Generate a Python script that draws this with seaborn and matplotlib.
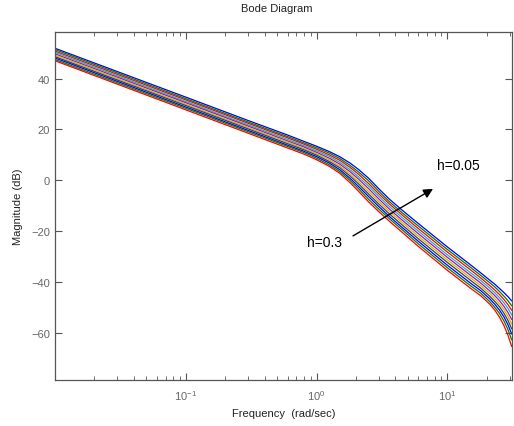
import numpy as np
import pandas as pd
import matplotlib
matplotlib.use("Agg")
import matplotlib.pyplot as plt
import seaborn as sns

# frequencies (rad/sec) and magnitude (dB), one list per curve
freq = [0.01, 0.1, 0.3, 0.6, 0.8, 1.0, 1.25, 1.5, 1.8, 2.1, 2.5, 3.0, 3.6, 4.5, 6.0,
        10, 15, 18, 21, 23, 25, 27, 29, 31]

mag0 = [51.9, 32.7, 23.5, 17.8, 15.3, 13.4, 11.3, 9.3, 6.8, 4.2, 0.8, -3.4, -7.4, -11.7, -17.0, -26.2, -33.2, -36.4, -39.2, -40.8, -42.5, -44.1, -45.7, -47.4]
mag1 = [51.4, 32.1, 22.9, 17.2, 14.7, 12.8, 10.7, 8.6, 5.9, 3.2, -0.2, -4.4, -8.4, -12.7, -18.0, -27.2, -34.2, -37.4, -40.2, -41.9, -43.7, -45.5, -47.3, -49.3]
mag2 = [50.8, 31.6, 22.4, 16.7, 14.2, 12.2, 10.0, 7.9, 5.1, 2.3, -1.3, -5.4, -9.3, -13.6, -19.0, -28.2, -35.2, -38.4, -41.3, -43.1, -44.9, -46.8, -48.8, -51.1]
mag3 = [50.3, 31.0, 21.8, 16.1, 13.6, 11.6, 9.4, 7.1, 4.2, 1.3, -2.3, -6.4, -10.3, -14.6, -20.0, -29.3, -36.3, -39.4, -42.3, -44.2, -46.1, -48.1, -50.3, -52.9]
mag4 = [49.7, 30.5, 21.3, 15.5, 13.1, 11.0, 8.7, 6.4, 3.4, 0.4, -3.3, -7.4, -11.3, -15.6, -21.0, -30.3, -37.3, -40.4, -43.4, -45.3, -47.3, -49.5, -51.9, -54.7]
mag5 = [49.2, 29.9, 20.7, 15.0, 12.5, 10.5, 8.1, 5.7, 2.5, -0.6, -4.4, -8.4, -12.2, -16.5, -22.0, -31.3, -38.3, -41.4, -44.4, -46.5, -48.5, -50.8, -53.4, -56.5]
mag6 = [48.6, 29.4, 20.2, 14.4, 12.0, 9.9, 7.4, 5.0, 1.7, -1.5, -5.4, -9.4, -13.2, -17.5, -23.0, -32.3, -39.3, -42.4, -45.5, -47.6, -49.7, -52.2, -55.0, -58.4]
mag7 = [48.1, 28.8, 19.6, 13.8, 11.4, 9.3, 6.8, 4.2, 0.8, -2.5, -6.4, -10.4, -14.2, -18.5, -24.0, -33.4, -40.4, -43.4, -46.5, -48.7, -51.0, -53.6, -56.7, -60.4]
mag8 = [47.5, 28.3, 19.1, 13.3, 10.9, 8.7, 6.1, 3.5, -0.0, -3.4, -7.5, -11.4, -15.1, -19.4, -25.0, -34.4, -41.4, -44.4, -47.6, -49.9, -52.3, -55.2, -58.6, -62.7]
mag9 = [47.0, 27.7, 18.5, 12.7, 10.3, 8.1, 5.5, 2.8, -0.9, -4.4, -8.5, -12.4, -16.1, -20.4, -26.0, -35.4, -42.4, -45.4, -48.6, -51.0, -53.8, -57.0, -60.8, -65.3]

curves = [mag0, mag1, mag2, mag3, mag4, mag5, mag6, mag7, mag8, mag9]

# old matlab color order b g r c m y k
colors = [(0, 0, 1), (0, 0.5, 0), (1, 0, 0), (0, 0.75, 0.75), (0.75, 0, 0.75),
          (0.75, 0.75, 0), (0.25, 0.25, 0.25), (0, 0, 1), (0, 0.5, 0), (1, 0, 0)]

rows = []
for i, m in enumerate(curves):
    for f, v in zip(freq, m):
        rows.append({"freq": f, "mag": v, "curve": i})
df = pd.DataFrame(rows)

sns.set_theme(style="white")
plt.rcParams['font.family'] = ['Liberation Sans', 'DejaVu Sans']

fig = plt.figure(figsize=(5.14, 4.27), dpi=100)
ax = fig.add_axes([0.107, 0.1077, 0.8885, 0.815])

sns.lineplot(data=df, x="freq", y="mag", hue="curve", palette=colors,
             legend=False, linewidth=0.9, ax=ax, sort=False)

ax.set_xscale("log")
ax.set_xlim(0.01, 31)
ax.set_ylim(-78.5, 58.3)
ax.set_xticks([0.1, 1, 10])
ax.set_yticks([-60, -40, -20, 0, 20, 40])

gray = "#555555"
for s in ax.spines.values():
    s.set_color(gray)
    s.set_linewidth(0.9)
ax.tick_params(which="both", direction="in", top=True, right=True, bottom=True, left=True,
               colors=gray, labelsize=8, labelcolor="#666666")
ax.tick_params(which="major", length=5, width=0.8)
ax.tick_params(which="minor", length=3, width=0.6)
ax.tick_params(axis="x", which="major", pad=6)

ax.set_xlabel("Frequency  (rad/sec)", fontsize=8, color="#222222", labelpad=4)
ax.set_ylabel("Magnitude (dB)", fontsize=8, color="#222222", labelpad=6)
fig.text(0.539, 0.979, "Bode Diagram", ha="center", va="center", fontsize=8, color="#222222")

ax.annotate("", xy=(8.1, -2.8), xytext=(1.82, -22.4),
            arrowprops=dict(arrowstyle="-|>", color="black", lw=1.0, mutation_scale=14))
ax.text(1.55, -24.3, "h=0.3", ha="right", va="center", fontsize=10, color="black")
ax.text(8.3, 6.0, "h=0.05", ha="left", va="center", fontsize=10, color="black")

fig.savefig("out.png", dpi=100)
